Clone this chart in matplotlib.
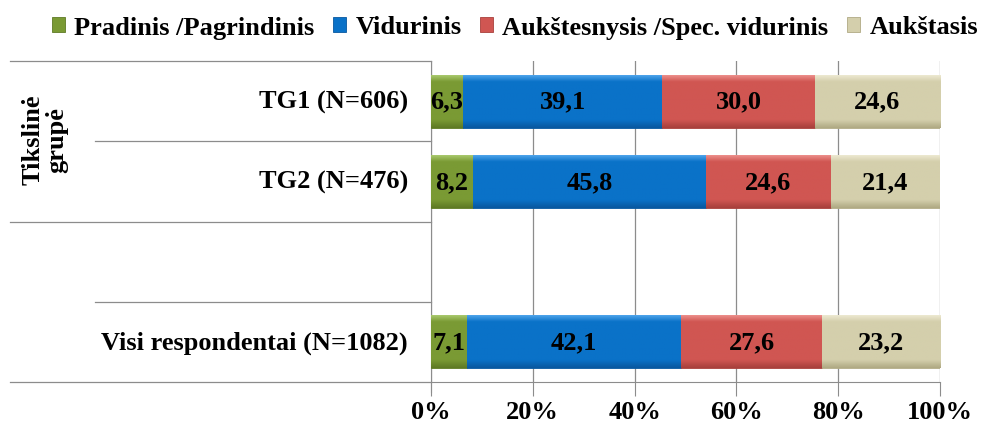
import numpy as np
import matplotlib
matplotlib.use("Agg")
import matplotlib.pyplot as plt
from matplotlib.patches import Patch
from matplotlib.lines import Line2D
from matplotlib.colors import to_rgb

categories = ["TG1 (N=606)", "TG2 (N=476)", "", "Visi respondentai (N=1082)"]
series_names = ["Pradinis /Pagrindinis", "Vidurinis", "Aukštesnysis /Spec. vidurinis", "Aukštasis"]
pradinis = [6.3, 8.2, None, 7.1]
vidurinis = [39.1, 45.8, None, 42.1]
aukstesnysis = [30.0, 24.6, None, 27.6]
aukstasis = [24.6, 21.4, None, 23.2]
group_label = "Tikslinė\ngrupė"
xticks = [0, 20, 40, 60, 80, 100]
xtick_labels = ["0%", "20%", "40%", "60%", "80%", "100%"]

colors = ["#7A9A34", "#0A72C8", "#D05652", "#D4CFAC"]
light = ["#A8C86C", "#4DA3EA", "#EC8E8A", "#ECE8D0"]
dark = ["#5E7A24", "#0858A0", "#A8403C", "#B0AA84"]

FONT = "Liberation Serif"
FS = 19
plt.rcParams['font.family'] = [FONT, 'DejaVu Serif']
plt.rcParams['font.weight'] = 'bold'

fig = plt.figure(figsize=(9.81, 4.27), dpi=100)
ax = fig.add_axes([431/981, 1-383/427, (940-431)/981, (383-62)/427])

series = [pradinis, vidurinis, aukstesnysis, aukstasis]
ypos = np.arange(len(categories))
left = np.zeros(len(categories))
bh = 0.66

def grad_colors(c_light, c_base, c_dark, n=64):
    a = np.array(to_rgb(c_light)); b = np.array(to_rgb(c_base)); d = np.array(to_rgb(c_dark))
    out = []
    for i in range(n):
        t = i/(n-1)
        if t < 0.12:
            c = a + (b-a)*(t/0.12)
        elif t > 0.85:
            c = b + (d-b)*((t-0.85)/0.15)
        else:
            c = b
        out.append(c)
    return np.array(out)[:, None, :]

for si, vals in enumerate(series):
    v = np.array([np.nan if x is None else x for x in vals], dtype=float)
    mask = ~np.isnan(v)
    bars = ax.barh(ypos[mask], v[mask], left=left[mask], height=bh, color=colors[si],
                   edgecolor=dark[si], linewidth=0.6, zorder=3, label=series_names[si])
    g = grad_colors(light[si], colors[si], dark[si])
    for b, val in zip(bars, v[mask]):
        x0, y0, w, h = b.get_x(), b.get_y(), b.get_width(), b.get_height()
        im = ax.imshow(g, extent=[x0, x0+w, y0+h, y0], aspect='auto', zorder=3.5, interpolation='bilinear')
        im.set_clip_path(b)
        ax.text(x0 + w/2, y0 + h/2, f"{val:.1f}".replace('.', ','), ha='center', va='center',
                fontsize=FS, fontweight='bold', family=FONT, zorder=5)
    left[mask] += v[mask]

ax.set_xlim(0, 100)
ax.set_ylim(3.5, -0.5)
ax.set_xticks(xticks)
ax.set_xticklabels(xtick_labels, fontsize=FS, fontweight='bold', family=FONT)
ax.set_yticks([])
ax.xaxis.grid(True, color='#8C8C8C', linewidth=0.9, zorder=0)
ax.set_axisbelow(True)
for s in ['top', 'right']:
    ax.spines[s].set_visible(False)
ax.spines['left'].set_color('#8C8C8C')
ax.spines['bottom'].set_color('#8C8C8C')
ax.spines['left'].set_bounds(3.5 + 0.125, -0.5)
ax.tick_params(axis='x', length=10, color='#8C8C8C', pad=3, direction='out')

# category labels
for yi, lab in zip(ypos, categories):
    ax.text(-0.045, yi, lab, transform=ax.get_yaxis_transform(), ha='right', va='center',
            fontsize=FS, fontweight='bold', family=FONT)

# multi-level axis separator lines
xa_full = (10-431)/(940-431)
xa_part = (95-431)/(940-431)
trans = ax.get_yaxis_transform()
for yb, xs in [(-0.5, xa_full), (0.5, xa_part), (1.5, xa_full), (2.5, xa_part), (3.5, xa_full)]:
    ax.add_line(Line2D([xs, 0], [yb, yb], transform=trans, color='#8C8C8C', linewidth=0.9, clip_on=False))

fig.text(45/981, 1-140/427, group_label, rotation=90, ha='center', va='center',
         fontsize=FS, fontweight='bold', family=FONT, linespacing=1.0)

handles = [Patch(facecolor=colors[i], edgecolor=dark[i], linewidth=0.6) for i in range(4)]
fig.legend(handles, series_names, loc='center', bbox_to_anchor=(515/981, 1-28/427), ncol=4,
           frameon=False, prop={'family': FONT, 'weight': 'bold', 'size': FS},
           handlelength=0.5, handleheight=0.5, handletextpad=0.35, columnspacing=0.7, borderpad=0)

fig.savefig("out.png", dpi=100)
